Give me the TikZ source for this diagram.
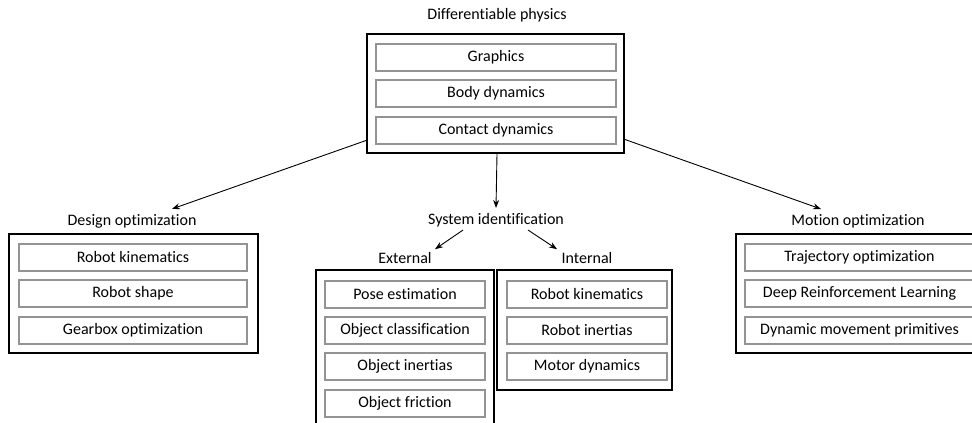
\documentclass[tikz,border=0pt]{standalone}
\usepackage{fontspec}
\setmainfont{Carlito}[Ligatures=NoCommon]
\usetikzlibrary{arrows.meta}
\begin{document}
\begin{tikzpicture}[x=1pt,y=-1pt,
  every node/.style={font=\fontsize{16}{18}\selectfont, inner sep=0pt},
  outerbox/.style={draw=black, line width=2pt, rectangle},
  itembox/.style={draw=gray!85, line width=2pt, fill=white, rectangle, minimum height=27pt},
  lbl/.style={anchor=center},
  conn/.style={line width=0.9pt, -{Stealth[length=8pt,width=6pt]}}
]
\useasboundingbox (0,0) rectangle (972,423);
\clip (0,0) rectangle (972,423);

% top group
\node[lbl] (tdp) at (497,15) {Differentiable physics};
\node[outerbox, minimum width=257pt, minimum height=119pt] (top) at (495.5,93.5) {};
\node[itembox, minimum width=240pt] (t1) at (496,57.5) {Graphics};
\node[itembox, minimum width=240pt] (t2) at (496,93.5) {Body dynamics};
\node[itembox, minimum width=240pt] (t3) at (496,130) {Contact dynamics};

% design optimization
\node[lbl] (ldo) at (132,221) {Design optimization};
\node[outerbox, minimum width=249pt, minimum height=119pt] (dbox) at (133.5,293.5) {};
\node[itembox, minimum width=228pt] (d1) at (133,257) {Robot kinematics};
\node[itembox, minimum width=228pt] (d2) at (133,293.5) {Robot shape};
\node[itembox, minimum width=228pt] (d3) at (133,330) {Gearbox optimization};

% system identification
\node[lbl] (lsi) at (496,220) {System identification};
\node[lbl] (lext) at (405,258) {External};
\node[lbl] (lint) at (587,258) {Internal};
\node[outerbox, minimum width=178pt, minimum height=158pt] (ebox) at (405,349) {};
\node[itembox, minimum width=160pt] (e1) at (405,294) {Pose estimation};
\node[itembox, minimum width=160pt] (e2) at (405,330) {Object classification};
\node[itembox, minimum width=160pt] (e3) at (405,366) {Object inertias};
\node[itembox, minimum width=160pt] (e4) at (405,403) {Object friction};
\node[outerbox, minimum width=175pt, minimum height=120pt] (ibox) at (584.5,330) {};
\node[itembox, minimum width=160pt] (i1) at (587,294) {Robot kinematics};
\node[itembox, minimum width=160pt] (i2) at (587,330) {Robot inertias};
\node[itembox, minimum width=160pt] (i3) at (587,366) {Motor dynamics};

% motion optimization
\node[lbl] (lmo) at (858,221) {Motion optimization};
\node[outerbox, minimum width=250pt, minimum height=119pt] (mbox) at (861,293.5) {};
\node[itembox, minimum width=229pt] (m1) at (859.5,257) {Trajectory optimization};
\node[itembox, minimum width=229pt] (m2) at (859.5,293.5) {Deep Reinforcement Learning};
\node[itembox, minimum width=229pt] (m3) at (859.5,330) {Dynamic movement primitives};

% connectors
\draw[conn] ([yshift=13.5pt]top.south west) -- ([xshift=40pt,yshift=5pt]ldo.north);
\draw[conn] ([yshift=14.5pt]top.south east) -- ([xshift=-37pt,yshift=5pt]lmo.north);
\draw[conn] ([xshift=1.5pt]top.south) -- ([yshift=5pt]lsi.north);
\draw[conn] ([xshift=-33pt,yshift=-3pt]lsi.south) -- ([xshift=30pt,yshift=3pt]lext.north);
\draw[conn] ([xshift=32pt,yshift=-3pt]lsi.south) -- ([xshift=-30pt,yshift=3pt]lint.north);
\end{tikzpicture}
\end{document}
